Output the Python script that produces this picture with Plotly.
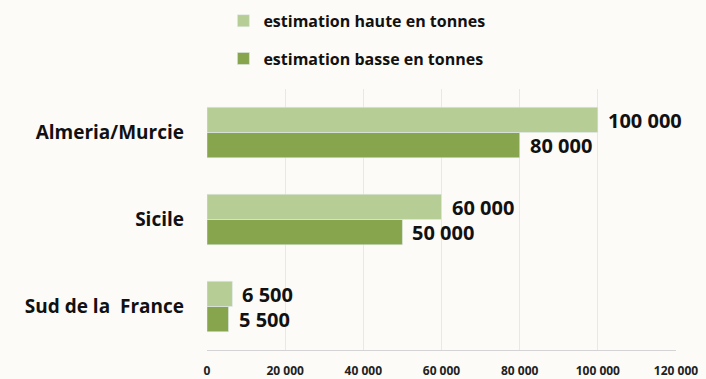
import plotly.graph_objects as go

categories = ["Sud de la  France", "Sicile", "Almeria/Murcie"]
haute = [6500, 60000, 100000]
basse = [5500, 50000, 80000]
haute_labels = ["6 500", "60 000", "100 000"]
basse_labels = ["5 500", "50 000", "80 000"]
tick_vals = [0, 20000, 40000, 60000, 80000, 100000, 120000]
tick_text = ["0", "20 000", "40 000", "60 000", "80 000", "100 000", "120 000"]

FONT = "'Open Sans', Lato, sans-serif"

fig = go.Figure()
fig.add_trace(go.Bar(
    y=categories, x=basse, orientation="h", name="estimation basse en tonnes",
    marker=dict(color="#86a54c"), legendrank=2, legendgroup="b",
))
fig.add_trace(go.Bar(
    y=categories, x=haute, orientation="h", name="estimation haute en tonnes",
    marker=dict(color="#b6cd96"), legendrank=1, legendgroup="h",
))

for vals, labels, ysh in ((haute, haute_labels, 12.5), (basse, basse_labels, -12.5)):
    for c, v, t in zip(categories, vals, labels):
        fig.add_annotation(
            x=v, y=c, text=t, xref="x", yref="y", showarrow=False,
            xanchor="left", yanchor="middle", xshift=8, yshift=ysh,
            font=dict(size=20, family=FONT, color="#111111", weight="bold"),
        )

fig.update_layout(
    width=706, height=379,
    margin=dict(l=207, r=30, t=89, b=29, autoexpand=False),
    paper_bgcolor="#fcfbf8", plot_bgcolor="#fcfbf8",
    barmode="group", bargap=0.42, bargroupgap=0,
    font=dict(family=FONT, color="#111111", size=14),
    showlegend=True,
    legend=dict(
        x=0.035, y=0.99, xanchor="left", yanchor="top", yref="container",
        orientation="v", tracegroupgap=14,
        font=dict(size=16, family=FONT, weight="bold"),
        bgcolor="rgba(0,0,0,0)", itemwidth=30,
    ),
)
fig.update_xaxes(
    range=[0, 120000], tickvals=tick_vals, ticktext=tick_text,
    tickfont=dict(size=12, family=FONT, weight="bold", color="#222222"),
    showgrid=True, gridcolor="#e8e8e8", gridwidth=1,
    zeroline=False, showline=True, linecolor="#d4d4d4", linewidth=1,
    ticklabelstandoff=10, automargin=False,
)
fig.update_yaxes(
    categoryorder="array", categoryarray=categories,
    tickfont=dict(size=19, family=FONT, weight="bold", color="#111111"),
    ticklabelstandoff=22, showgrid=False, showline=False, automargin=False,
)

fig.write_html("out.html")
